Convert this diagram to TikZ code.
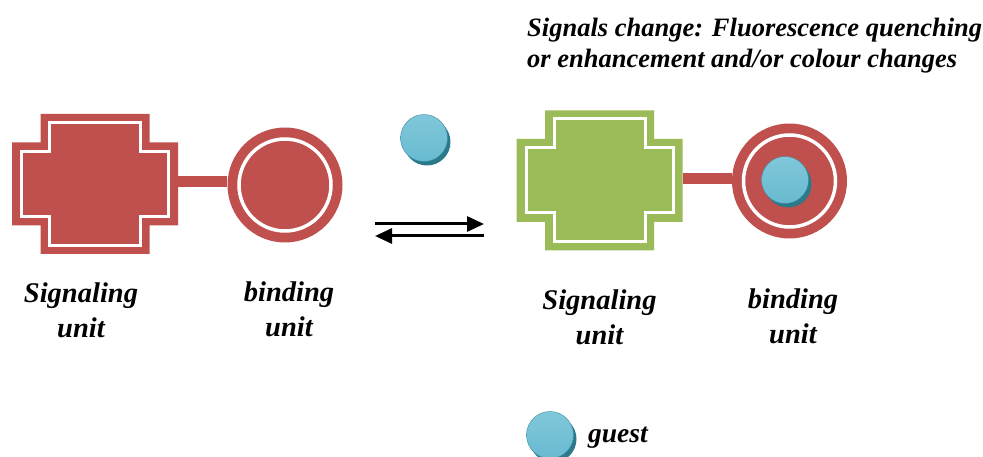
\documentclass[tikz,border=0pt]{standalone}
\usepackage{fontspec}
\setmainfont{Liberation Serif}
\usetikzlibrary{shapes, calc, arrows.meta, shadows}
\definecolor{sigred}{HTML}{C0504D}
\definecolor{siggreen}{HTML}{9BBB59}
\definecolor{guestblue}{HTML}{45A7C1}
\definecolor{guestlight}{HTML}{80C7DA}
\definecolor{guestdark}{HTML}{2B7A8C}

\begin{document}
\begin{tikzpicture}[x=1pt, y=-1pt]
	\tikzstyle{unitlabel}=[
	align=center,
	inner sep=0pt,
	anchor=north,
	font=\fontsize{28.5}{35}\selectfont\bfseries\itshape
	]
	\tikzstyle{armbox}=[
	rectangle,
	minimum width=166pt,
	minimum height=83pt,
	inner sep=0pt
	]
	\tikzstyle{bindnode}=[circle, fill=sigred, minimum size=115pt, inner sep=0pt]
	\tikzstyle{linker}=[draw=sigred, line width=11pt]
	\tikzstyle{guestball}=[
	circle,
	minimum size=47pt,
	inner sep=0pt,
	top color=guestlight,
	middle color=guestblue,
	bottom color=guestlight!60!guestblue,
	draw=guestblue!85!black,
	line width=0.4pt,
	general shadow={fill=guestdark, shadow xshift=3pt, shadow yshift=-4pt}
	]
	\tikzstyle{eqarrow}=[line width=3pt, -{Triangle[length=17pt, width=15pt]}]
	\useasboundingbox (0,0) rectangle (983,457);
	%
	\foreach \cx/\cy/\col in {95/184/sigred, 599.5/180.5/siggreen}{
		\begin{scope}[shift={(\cx,\cy)}]
			\fill[\col] (-54.5,-70) -- (54.5,-70) -- (54.5,-41.5) -- (83,-41.5) -- (83,41.5) -- (54.5,41.5)
			-- (54.5,70) -- (-54.5,70) -- (-54.5,41.5) -- (-83,41.5) -- (-83,-41.5) -- (-54.5,-41.5) -- cycle;
			\draw[white, line width=3pt] (-45.5,-61.5) -- (45.5,-61.5) -- (45.5,-32.5) -- (73.5,-32.5) -- (73.5,32.5) -- (45.5,32.5)
			-- (45.5,61.5) -- (-45.5,61.5) -- (-45.5,32.5) -- (-73.5,32.5) -- (-73.5,-32.5) -- (-45.5,-32.5) -- cycle;
		\end{scope}
	}
	\node[armbox] (sigL) at (95,182) {};
	\node[armbox] (sigR) at (599.5,178.5) {};
	%
	\node[bindnode] (bindL) at (285,185) {};
	\node[bindnode] (bindR) at (789.5,181) {};
	\draw[white, line width=3.5pt] (bindL.center) circle (46pt);
	\draw[white, line width=3.5pt] (bindR.center) circle (46pt);
	\draw[linker] (sigL.east) -- (sigL.east -| bindL.west);
	\draw[linker] (sigR.east) -- (sigR.east -| bindR.west);
	%
	\node[guestball] (guestF) at (424,138) {};
	\node[guestball] (guestB) at (785,180) {};
	\node[guestball] (guestK) at (550,435) {};
	%
	\coordinate (fwdS) at (375,224);
	\coordinate (fwdE) at (484,224);
	\coordinate (bwdS) at (484,236);
	\coordinate (bwdE) at (375,236);
	\draw[eqarrow] (fwdS) -- (fwdE);
	\draw[eqarrow] (bwdS) -- (bwdE);
	%
	\node[unitlabel] (sigLtxt) at (81,283) {Signaling\\unit};
	\node[unitlabel] (bindLtxt) at (289,282) {binding\\unit};
	\node[unitlabel] (sigRtxt) at (599.5,290) {Signaling\\unit};
	\node[unitlabel] (bindRtxt) at (793,289) {binding\\unit};
	\node[anchor=base west, inner sep=0pt, font=\fontsize{27.5}{30}\selectfont\bfseries\itshape] (guestlbl) at (588,442) {guest};
	\node[anchor=north west, align=left, inner sep=0pt, font=\fontsize{26.5}{30.5}\selectfont\bfseries\itshape] (headline) at (527,18)
	{Signals change: Fluorescence quenching\\or enhancement and/or colour changes};
\end{tikzpicture}
\end{document}
